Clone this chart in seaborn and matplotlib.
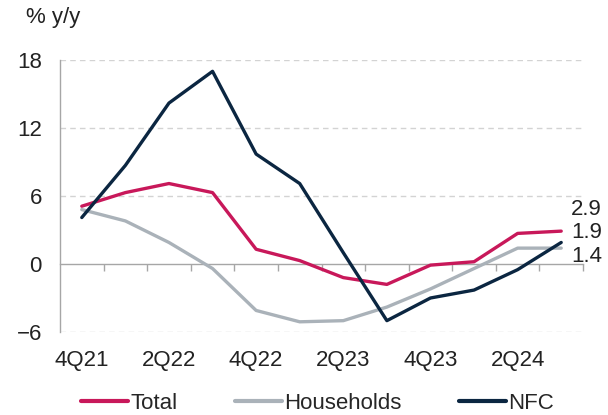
import matplotlib
matplotlib.use("Agg")
import matplotlib.pyplot as plt
import seaborn as sns
import pandas as pd

quarters = ["4Q21", "1Q22", "2Q22", "3Q22", "4Q22", "1Q23",
            "2Q23", "3Q23", "4Q23", "1Q24", "2Q24", "3Q24"]
total = [5.1, 6.3, 7.1, 6.3, 1.3, 0.3, -1.2, -1.8, -0.1, 0.2, 2.7, 2.9]
households = [4.8, 3.8, 1.9, -0.4, -4.1, -5.1, -5.0, -3.8, -2.2, -0.4, 1.4, 1.4]
nfc = [4.1, 8.7, 14.2, 17.0, 9.7, 7.1, 1.0, -5.0, -3.0, -2.3, -0.5, 1.9]

series = {"Total": total, "Households": households, "NFC": nfc}
colors = {"Total": "#C8185A", "Households": "#AAB2B9", "NFC": "#0B2641"}

rows = []
for name, vals in series.items():
    for i, v in enumerate(vals):
        rows.append({"pos": i, "quarter": quarters[i], "series": name, "value": v})
df = pd.DataFrame(rows)

sns.set_style("white")
plt.rcParams["font.family"] = ["Liberation Sans", "DejaVu Sans"]
FS = 16

fig = plt.figure(figsize=(6.08, 4.15), dpi=100)
ax = fig.add_axes([60 / 608, 83 / 415, 523 / 608, 272 / 415])

sns.lineplot(data=df, x="pos", y="value", hue="series", palette=colors,
             hue_order=["Total", "Households", "NFC"], linewidth=2.4,
             ax=ax, legend=False)
# NFC drawn above the others
for line, z in zip(ax.lines, [3, 2, 4]):
    line.set_zorder(z)

ax.set_xlim(-0.5, len(quarters) - 0.5)
ax.set_ylim(-6, 18)
ax.set_yticks([-6, 0, 6, 12, 18])
ax.set_xticks(range(0, len(quarters), 2))
ax.set_xticklabels(quarters[::2])
ax.set_xlabel("")
ax.set_ylabel("")

for y in [-6, 6, 12, 18]:
    ax.axhline(y, color="#D3D3D3", lw=1, ls=(0, (4, 3)), zorder=0)

for s in ["top", "right", "bottom"]:
    ax.spines[s].set_visible(False)
ax.spines["left"].set_color("#A6A6A6")
ax.spines["left"].set_linewidth(1)

ax.tick_params(axis="y", length=3, width=1, color="#A6A6A6", pad=10,
               labelsize=FS, labelcolor="#222222")
ax.tick_params(axis="x", length=0, pad=13, labelsize=FS, labelcolor="#222222")

# zero line with category-boundary ticks
sec = ax.secondary_xaxis(0.25)
sec.set_xticks([i + 0.5 for i in range(len(quarters))])
sec.set_xticklabels([])
sec.tick_params(axis="x", direction="out", length=5, width=1, color="#A6A6A6")
sec.spines["bottom"].set_color("#A6A6A6")
sec.spines["bottom"].set_linewidth(1)

# end labels
offsets = {"Total": 22, "NFC": 10, "Households": -8}
for name, vals in series.items():
    ax.annotate(f"{vals[-1]:.1f}", xy=(len(quarters) - 1, vals[-1]),
                xytext=(7, offsets[name] * 0.72), textcoords="offset points",
                va="center", ha="left", fontsize=FS, color="#222222",
                annotation_clip=False)

fig.text(26 / 608, 1 - 18 / 415, "% y/y", fontsize=FS, color="#222222",
         ha="left", va="center")

handles = [plt.Line2D([], [], color=colors[n], lw=3) for n in series]
fig.legend(handles, list(series), loc="center", bbox_to_anchor=(0.522, 12 / 415),
           ncol=3, frameon=False, fontsize=FS, handlelength=2.1,
           handletextpad=0.1, columnspacing=2.6)

fig.savefig("out.png", dpi=100)
